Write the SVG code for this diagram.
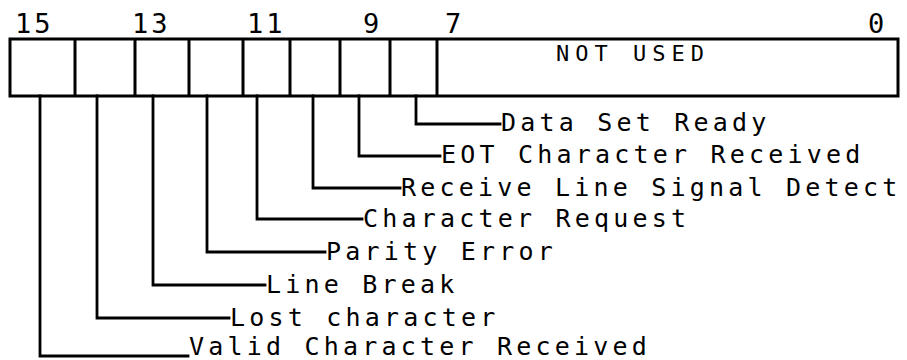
<svg xmlns="http://www.w3.org/2000/svg" width="907" height="360" viewBox="0 0 907 360">
<style>
.bx{fill:none;stroke:#000;stroke-width:3}
.ln{fill:none;stroke:#000;stroke-width:2.8;stroke-linejoin:miter;stroke-linecap:square}
.lb{font-family:"DejaVu Sans Mono","Liberation Mono",monospace;font-size:25px;letter-spacing:4.2px;fill:#000}
.nm{font-family:"DejaVu Sans Mono","Liberation Mono",monospace;font-size:27px;letter-spacing:3px;fill:#000}
.nu{font-family:"DejaVu Sans Mono","Liberation Mono",monospace;font-size:22px;letter-spacing:6px;fill:#000}
</style>
<rect width="907" height="360" fill="#fff"/>
<g id="register">
<rect class="bx" x="10" y="39" width="888" height="57"/>
<path class="bx" d="M75 39V96M135 39V96M189 39V96M243 39V96M290 39V96M340 39V96M390 39V96M437 39V96"/>
<text class="nu" x="556" y="61">NOT USED</text>
</g>
<g id="bit-numbers">
<text class="nm" x="15" y="33">15</text>
<text class="nm" x="132" y="33">13</text>
<text class="nm" x="247" y="33">11</text>
<text class="nm" x="363" y="33">9</text>
<text class="nm" x="445" y="33">7</text>
<text class="nm" x="868" y="33">0</text>
</g>
<g id="connectors">
<path class="ln" d="M416 96V124H500"/>
<path class="ln" d="M359 96V156H440"/>
<path class="ln" d="M313 96V188H400"/>
<path class="ln" d="M257 96V219H362"/>
<path class="ln" d="M207 96V252H325"/>
<path class="ln" d="M153 96V285H265"/>
<path class="ln" d="M97 96V318H229"/>
<path class="ln" d="M40 96V356H188"/>
</g>
<g id="label-dsr"><text class="lb" x="501" y="131">Data Set Ready</text></g>
<g id="label-eot"><text class="lb" x="441" y="163">EOT Character Received</text></g>
<g id="label-rlsd"><text class="lb" x="401" y="196">Receive Line Signal Detect</text></g>
<g id="label-cr"><text class="lb" x="363" y="227">Character Request</text></g>
<g id="label-pe"><text class="lb" x="326" y="260">Parity Error</text></g>
<g id="label-lb"><text class="lb" x="266" y="293">Line Break</text></g>
<g id="label-lc"><text class="lb" x="230" y="326">Lost character</text></g>
<g id="label-vcr"><text class="lb" x="189" y="355">Valid Character Received</text></g>
</svg>
